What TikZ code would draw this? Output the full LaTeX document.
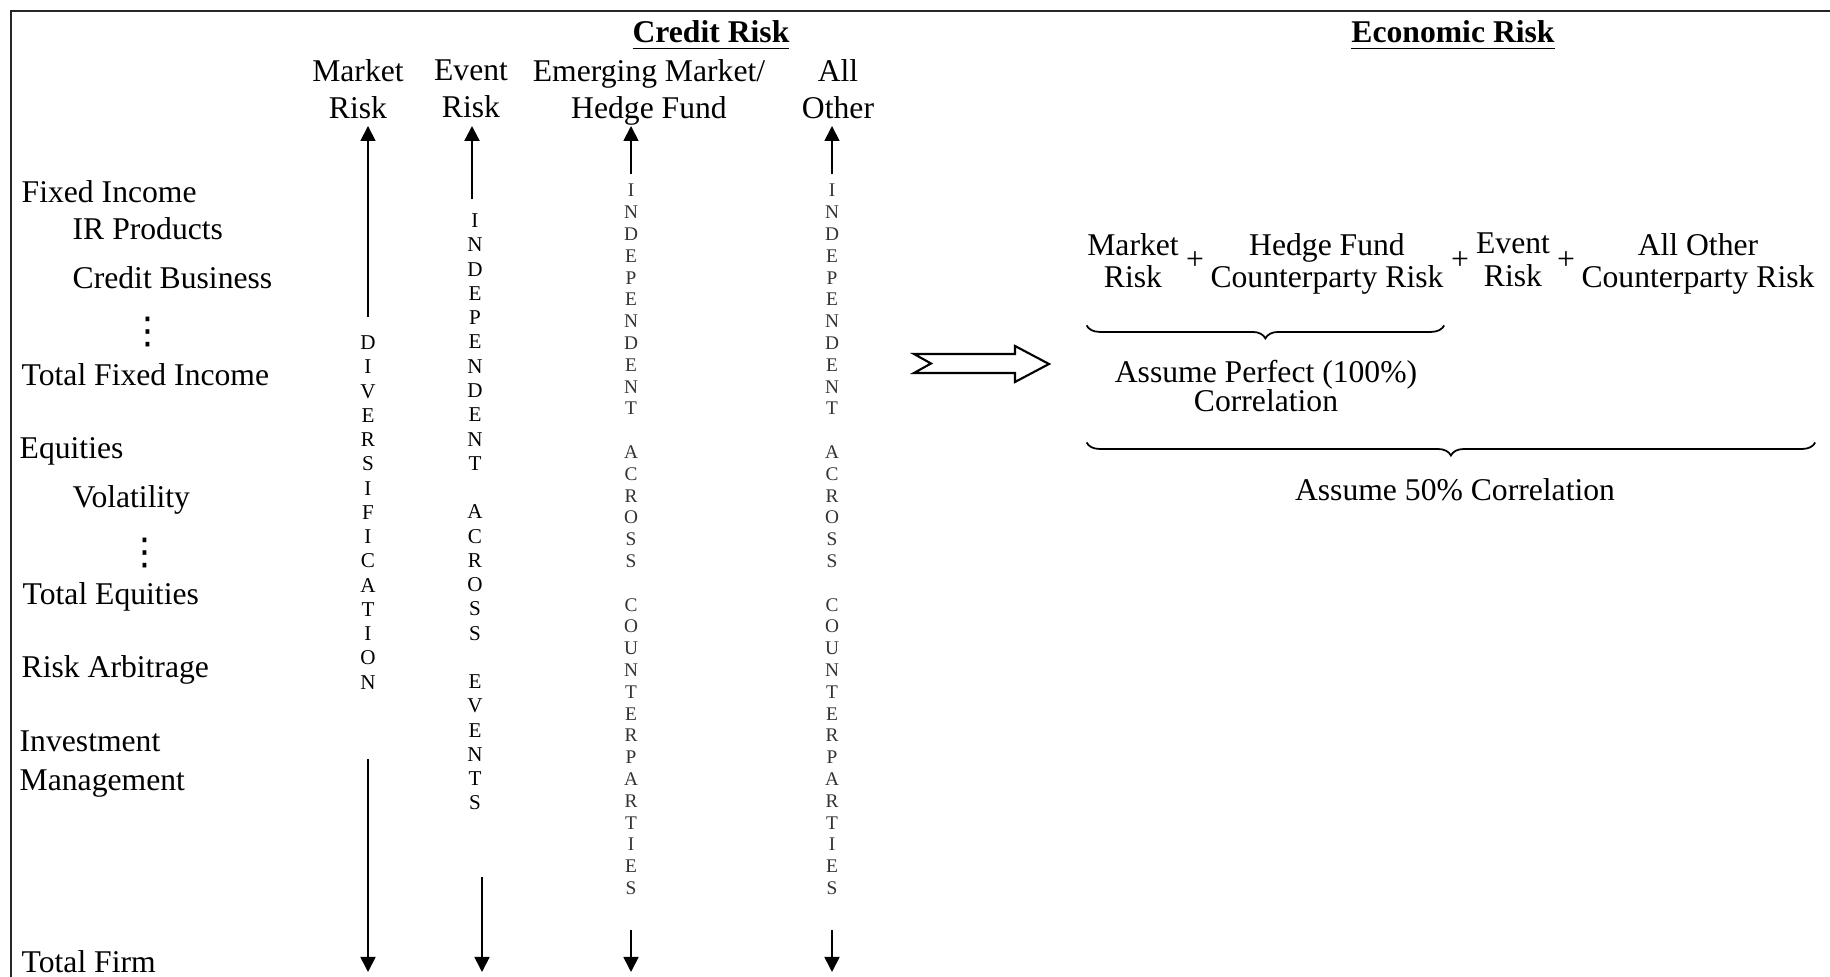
\documentclass[tikz,border=0pt]{standalone}
\usepackage{fontspec}
\setmainfont{Liberation Serif}
\newfontfamily\dotsfont{DejaVu Sans}
\usepackage{tikz}
\usetikzlibrary{arrows.meta, positioning, decorations.pathreplacing}

\begin{document}
\begin{tikzpicture}[
    x=0.01cm, y=-0.01cm,
    every node/.style={font=\fontsize{9}{10.5}\selectfont, inner sep=0pt},
    header/.style={align=center, anchor=north},
    rowlabel/.style={anchor=base west},
    vdotsmark/.style={anchor=base, font=\dotsfont\fontsize{10.5}{10.5}\selectfont},
    term/.style={align=center, anchor=north, font=\fontsize{9}{9.3}\selectfont},
    vstack/.style={align=center, font=\fontsize{6}{6.9}\selectfont},
    vstacklight/.style={align=center, font=\fontsize{5.5}{6.2}\selectfont, text=black!80},
    arrow/.style={line width=0.5pt, -{Triangle[length=0.15cm, width=0.15cm]}},
    frame/.style={line width=0.7pt, draw=black!85},
    brace/.style={decorate, decoration={brace, mirror, amplitude=0.13cm}, line width=0.5pt},
    fatarrow/.style={line width=0.6pt, draw=black, fill=white}
]

\useasboundingbox (0,0) rectangle (1830,977);
\draw[frame] (11,977) -- (11,11) -- (1830,11);

% Titles
\node[anchor=base] (credit) at (711,43) {\underline{\textbf{Credit Risk}}};
\node[anchor=base] (econ) at (1453,43) {\underline{\textbf{Economic Risk}}};

\node[header] (mkthdr) at (358,58.5) {Market\\Risk};
\node[header] (evthdr) at (471,59.5) {Event\\Risk};
\node[header] (emhdr) at (649,58.5) {Emerging Market/\\Hedge Fund};
\node[header] (aohdr) at (838,58.5) {All\\Other};

% Business lines
\node[rowlabel] (fi) at (21,203) {Fixed Income};
\node[rowlabel] (irp) at (72,240) {IR Products};
\node[rowlabel] (cb) at (72,289) {Credit Business};
\node[vdotsmark] (dots1) at (148,344) {⋮};
\node[rowlabel] (tfi) at (21,386) {Total Fixed Income};
\node[rowlabel] (eq) at (19,459) {Equities};
\node[rowlabel] (vol) at (72,508) {Volatility};
\node[vdotsmark] (dots2) at (145,565) {⋮};
\node[rowlabel] (teq) at (22,605) {Total Equities};
\node[rowlabel] (ra) at (21,678) {Risk Arbitrage};
\node[align=left, anchor=north west, font=\fontsize{9}{11}\selectfont] (im) at (19,730) {Investment\\Management};
\node[rowlabel] (tf) at (21,973) {Total Firm};

% Aggregation columns
\node[vstack] (div) at (368,512.5) {D\\I\\V\\E\\R\\S\\I\\F\\I\\C\\A\\T\\I\\O\\N};
\node[vstack] (evt) at (475,512) {I\\N\\D\\E\\P\\E\\N\\D\\E\\N\\T\\[6.9pt]A\\C\\R\\O\\S\\S\\[6.9pt]E\\V\\E\\N\\T\\S};
\node[vstacklight] (em) at (631,539.5) {I\\N\\D\\E\\P\\E\\N\\D\\E\\N\\T\\[6.2pt]A\\C\\R\\O\\S\\S\\[6.2pt]C\\O\\U\\N\\T\\E\\R\\P\\A\\R\\T\\I\\E\\S};
\node[vstacklight] (ao) at (832,539.5) {I\\N\\D\\E\\P\\E\\N\\D\\E\\N\\T\\[6.2pt]A\\C\\R\\O\\S\\S\\[6.2pt]C\\O\\U\\N\\T\\E\\R\\P\\A\\R\\T\\I\\E\\S};

\coordinate (tipline) at (0,126);
\coordinate (floor) at (0,972);

\draw[arrow] ([yshift=0.18cm]div.north) -- (div.north |- tipline);
\draw[arrow] ([yshift=-0.69cm]div.south) -- (div.south |- floor);
\draw[arrow, line width=0.65pt] ([xshift=-0.03cm, yshift=0.14cm]evt.north) -- ([xshift=-0.03cm]evt.north |- tipline);
\draw[arrow] ([xshift=0.07cm, yshift=-0.66cm]evt.south) -- ([xshift=0.07cm]evt.south |- floor);
\draw[arrow] ([yshift=0.09cm]em.north) -- (em.north |- tipline);
\draw[arrow] ([yshift=-0.35cm]em.south) -- (em.south |- floor);
\draw[arrow] ([yshift=0.09cm]ao.north) -- (ao.north |- tipline);
\draw[arrow] ([yshift=-0.35cm]ao.south) -- (ao.south |- floor);

% Transition
\draw[fatarrow] (914,354) -- (1015,354) -- (1015,346) -- (1049,364) -- (1015,382) -- (1015,373) -- (914,373) -- (931,363.5) -- cycle;

% Economic risk sum
\node[term] (mktr) at (1133,232.5) {Market\\Risk};
\node (plus1) at (1195,261) {+};
\node[term] (hf) at (1327,232.5) {Hedge Fund\\Counterparty Risk};
\node (plus2) at (1460,261) {+};
\node[term] (evr) at (1513,232.5) {Event\\Risk};
\node (plus3) at (1566,261) {+};
\node[term] (aor) at (1698,232.5) {All Other\\Counterparty Risk};

\draw[brace] ([yshift=-0.3cm]mktr.west |- hf.south) -- ([yshift=-0.3cm]hf.south east);
\node[align=center, anchor=north, font=\fontsize{9}{8.3}\selectfont] (perfect) at (1266,359.5) {Assume Perfect (100\%)\\Correlation};

\draw[brace] ([yshift=-1.47cm]mktr.west |- hf.south) -- ([yshift=-1.47cm]aor.south east);
\node[anchor=base] (fifty) at (1455,501) {Assume 50\% Correlation};

\end{tikzpicture}
\end{document}
